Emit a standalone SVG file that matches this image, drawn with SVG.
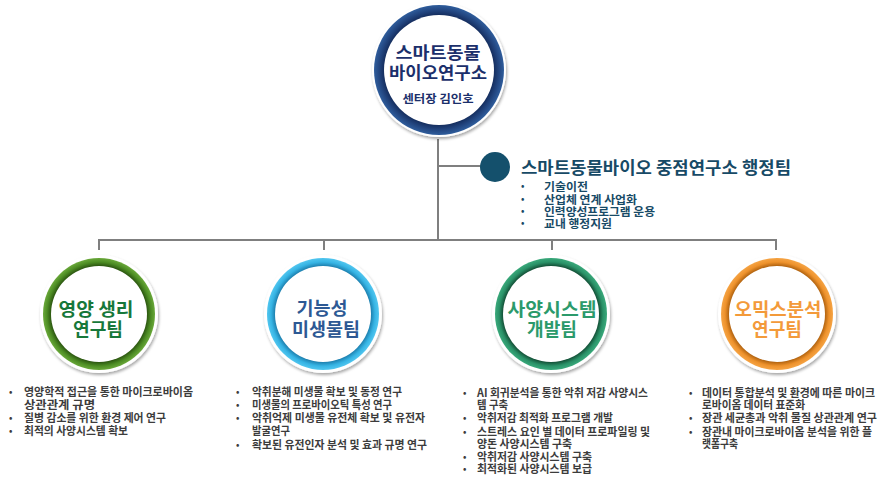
<svg xmlns="http://www.w3.org/2000/svg" width="887" height="485" viewBox="0 0 887 485">
<style>
text{font-family:"Noto Sans CJK KR","Noto Sans",sans-serif;}
.conn{stroke:#7f7f7f;stroke-width:2;fill:none;}
.rim{fill:#ffffff;filter:url(#sh);}
.inner{fill:#ffffff;}
.ctitle{font-size:18px;font-weight:700;text-anchor:middle;}
.li{font-size:11px;font-weight:700;fill:#3c3c3c;}
.bul{font-size:9px;font-weight:700;fill:#3c3c3c;}
.adm{font-size:11px;font-weight:700;fill:#174a66;}
.admb{font-size:9px;font-weight:700;fill:#174a66;}
</style>
<defs>
<filter id="sh" x="-20%" y="-20%" width="140%" height="140%">
<feDropShadow dx="1" dy="2" stdDeviation="1.8" flood-color="#000" flood-opacity="0.35"/>
</filter>
<radialGradient id="gNavy" cx="0.5" cy="0.5" r="0.5">
<stop offset="0.84" stop-color="#142c5c"/>
<stop offset="0.92" stop-color="#22457f"/>
<stop offset="1" stop-color="#2f5d9c"/>
</radialGradient>
<radialGradient id="gGreen" cx="0.5" cy="0.5" r="0.5">
<stop offset="0.855" stop-color="#2b5510"/>
<stop offset="0.93" stop-color="#4d8d24"/>
<stop offset="1" stop-color="#6aa83a"/>
</radialGradient>
<radialGradient id="gBlue" cx="0.5" cy="0.5" r="0.5">
<stop offset="0.855" stop-color="#1d7fae"/>
<stop offset="0.93" stop-color="#36b4e4"/>
<stop offset="1" stop-color="#52c6ef"/>
</radialGradient>
<radialGradient id="gTeal" cx="0.5" cy="0.5" r="0.5">
<stop offset="0.855" stop-color="#134f36"/>
<stop offset="0.93" stop-color="#2a9268"/>
<stop offset="1" stop-color="#3aa97b"/>
</radialGradient>
<radialGradient id="gOrange" cx="0.5" cy="0.5" r="0.5">
<stop offset="0.855" stop-color="#b0620f"/>
<stop offset="0.93" stop-color="#ee922c"/>
<stop offset="1" stop-color="#f5a445"/>
</radialGradient>
</defs>

<g id="connectors">
<line class="conn" x1="438" y1="139" x2="438" y2="240"/>
<line class="conn" x1="438" y1="166" x2="482" y2="166"/>
<line class="conn" x1="98" y1="240" x2="777" y2="240"/>
<line class="conn" x1="99" y1="239" x2="99" y2="250"/>
<line class="conn" x1="324" y1="240" x2="324" y2="250"/>
<line class="conn" x1="552" y1="240" x2="552" y2="250"/>
<line class="conn" x1="776" y1="239" x2="776" y2="250"/>
</g>

<g id="center-node">
<circle class="rim" cx="439" cy="70" r="67"/>
<circle cx="439" cy="70" r="65" fill="url(#gNavy)"/>
<circle class="inner" cx="439" cy="70" r="55"/>
<text x="438" y="59" font-size="17" font-weight="700" fill="#1b2f6b" text-anchor="middle" textLength="85" lengthAdjust="spacingAndGlyphs">스마트동물</text>
<text x="438" y="79" font-size="17" font-weight="700" fill="#1b2f6b" text-anchor="middle" textLength="98" lengthAdjust="spacingAndGlyphs">바이오연구소</text>
<text x="438" y="103" font-size="11" font-weight="700" fill="#1b2f6b" text-anchor="middle" textLength="71" lengthAdjust="spacingAndGlyphs">센터장 김인호</text>
</g>

<g id="admin-team">
<circle cx="495" cy="167" r="15" fill="#14506c"/>
<text x="521" y="174" font-size="16.5" font-weight="700" fill="#174a66" textLength="270" lengthAdjust="spacingAndGlyphs">스마트동물바이오 중점연구소 행정팀</text>
<text class="admb" x="521" y="189">•</text>
<text class="adm" x="544" y="191" textLength="44" lengthAdjust="spacingAndGlyphs">기술이전</text>
<text class="admb" x="521" y="202">•</text>
<text class="adm" x="544" y="204" textLength="93" lengthAdjust="spacingAndGlyphs">산업체 연계 사업화</text>
<text class="admb" x="521" y="214">•</text>
<text class="adm" x="544" y="216" textLength="111" lengthAdjust="spacingAndGlyphs">인력양성프로그램 운용</text>
<text class="admb" x="521" y="226">•</text>
<text class="adm" x="544" y="228" textLength="68" lengthAdjust="spacingAndGlyphs">교내 행정지원</text>
</g>

<g id="team-nutrition">
<circle class="rim" cx="99" cy="314" r="59"/>
<circle cx="99" cy="314" r="56" fill="url(#gGreen)"/>
<circle class="inner" cx="99" cy="314" r="48"/>
<text class="ctitle" x="96" y="316" fill="#17783a" textLength="75" lengthAdjust="spacingAndGlyphs">영양 생리</text>
<text class="ctitle" x="98" y="336" fill="#17783a" textLength="50" lengthAdjust="spacingAndGlyphs">연구팀</text>
<text class="bul" x="9" y="395">•</text>
<text class="li" x="24" y="396" textLength="169" lengthAdjust="spacingAndGlyphs">영양학적 접근을 통한 마이크로바이옴</text>
<text class="li" x="24" y="408.5" textLength="71" lengthAdjust="spacingAndGlyphs">상관관계 규명</text>
<text class="bul" x="9" y="421">•</text>
<text class="li" x="24" y="422" textLength="142" lengthAdjust="spacingAndGlyphs">질병 감소를 위한 환경 제어 연구</text>
<text class="bul" x="9" y="434">•</text>
<text class="li" x="24" y="435" textLength="104" lengthAdjust="spacingAndGlyphs">최적의 사양시스템 확보</text>
</g>

<g id="team-microbe">
<circle class="rim" cx="323" cy="314" r="59"/>
<circle cx="323" cy="314" r="56" fill="url(#gBlue)"/>
<circle class="inner" cx="323" cy="314" r="48"/>
<text class="ctitle" x="322" y="315" fill="#2d5994" textLength="51" lengthAdjust="spacingAndGlyphs">기능성</text>
<text class="ctitle" x="326" y="336" fill="#2d5994" textLength="68" lengthAdjust="spacingAndGlyphs">미생물팀</text>
<text class="bul" x="236" y="395">•</text>
<text class="li" x="252" y="396" textLength="150" lengthAdjust="spacingAndGlyphs">악취분해 미생물 확보 및 동정 연구</text>
<text class="bul" x="236" y="408">•</text>
<text class="li" x="252" y="409" textLength="140" lengthAdjust="spacingAndGlyphs">미생물의 프로바이오틱 특성 연구</text>
<text class="bul" x="236" y="421">•</text>
<text class="li" x="252" y="422" textLength="173" lengthAdjust="spacingAndGlyphs">악취억제 미생물 유전체 확보 및 유전자</text>
<text class="li" x="252" y="435" textLength="38" lengthAdjust="spacingAndGlyphs">발굴연구</text>
<text class="bul" x="236" y="448">•</text>
<text class="li" x="252" y="449" textLength="175" lengthAdjust="spacingAndGlyphs">확보된 유전인자 분석 및 효과 규명 연구</text>
</g>

<g id="team-system">
<circle class="rim" cx="551" cy="314" r="59"/>
<circle cx="551" cy="314" r="56" fill="url(#gTeal)"/>
<circle class="inner" cx="551" cy="314" r="48"/>
<text class="ctitle" x="552" y="316" fill="#2b9a6b" textLength="89" lengthAdjust="spacingAndGlyphs">사양시스템</text>
<text class="ctitle" x="552" y="336" fill="#2b9a6b" textLength="50" lengthAdjust="spacingAndGlyphs">개발팀</text>
<text class="bul" x="463" y="396">•</text>
<text class="li" x="477" y="397" textLength="171" lengthAdjust="spacingAndGlyphs">AI 회귀분석을 통한 악취 저감 사양시스</text>
<text class="li" x="477" y="409" textLength="31" lengthAdjust="spacingAndGlyphs">템 구축</text>
<text class="bul" x="463" y="421">•</text>
<text class="li" x="477" y="422" textLength="136" lengthAdjust="spacingAndGlyphs">악취저감 최적화 프로그램 개발</text>
<text class="bul" x="463" y="435">•</text>
<text class="li" x="477" y="436" textLength="173" lengthAdjust="spacingAndGlyphs">스트레스 요인 별 데이터 프로파일링 및</text>
<text class="li" x="477" y="448" textLength="95" lengthAdjust="spacingAndGlyphs">양돈 사양시스템 구축</text>
<text class="bul" x="463" y="460">•</text>
<text class="li" x="477" y="461" textLength="115" lengthAdjust="spacingAndGlyphs">악취저감 사양시스템 구축</text>
<text class="bul" x="463" y="472">•</text>
<text class="li" x="477" y="473" textLength="115" lengthAdjust="spacingAndGlyphs">최적화된 사양시스템 보급</text>
</g>

<g id="team-omics">
<circle class="rim" cx="777" cy="314" r="59"/>
<circle cx="777" cy="314" r="56" fill="url(#gOrange)"/>
<circle class="inner" cx="777" cy="314" r="48"/>
<text class="ctitle" x="778" y="316" fill="#f39a3a" textLength="87" lengthAdjust="spacingAndGlyphs">오믹스분석</text>
<text class="ctitle" x="777" y="336" fill="#f39a3a" textLength="50" lengthAdjust="spacingAndGlyphs">연구팀</text>
<text class="bul" x="689" y="396">•</text>
<text class="li" x="702" y="397" textLength="173" lengthAdjust="spacingAndGlyphs">데이터 통합분석 및 환경에 따른 마이크</text>
<text class="li" x="702" y="409" textLength="103" lengthAdjust="spacingAndGlyphs">로바이옴 데이터 표준화</text>
<text class="bul" x="689" y="421">•</text>
<text class="li" x="702" y="422" textLength="175" lengthAdjust="spacingAndGlyphs">장관 세균총과 악취 물질 상관관계 연구</text>
<text class="bul" x="689" y="435">•</text>
<text class="li" x="702" y="436" textLength="170" lengthAdjust="spacingAndGlyphs">장관내 마이크로바이옴 분석을 위한 플</text>
<text class="li" x="702" y="448" textLength="36" lengthAdjust="spacingAndGlyphs">랫폼구축</text>
</g>
</svg>
